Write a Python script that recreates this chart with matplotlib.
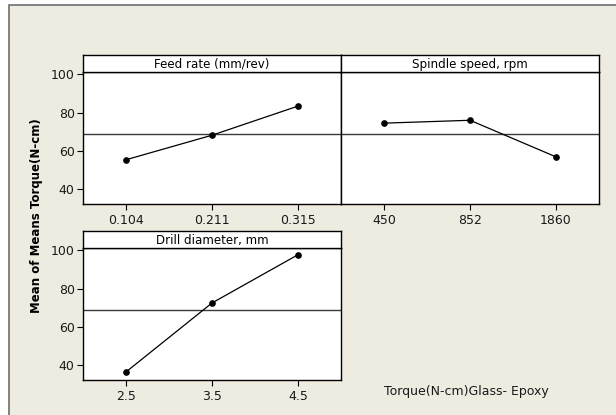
"""Main effects plot for means: torque, glass-epoxy drilling (Minitab style)."""
import matplotlib
matplotlib.use('Agg')
import matplotlib.pyplot as plt
from matplotlib.patches import Rectangle

# --- data ---
feed_levels = ['0.104', '0.211', '0.315']
feed_means = [55.4, 68.2, 83.4]
speed_levels = ['450', '852', '1860']
speed_means = [74.5, 76.0, 56.9]
drill_levels = ['2.5', '3.5', '4.5']
drill_means = [36.5, 72.5, 97.7]
grand_mean = 68.9
panel_titles = ['Feed rate (mm/rev)', 'Spindle speed, rpm', 'Drill diameter, mm']
y_ticks = [40, 60, 80, 100]

W, H = 616, 415
BG = '#EEEBE1'

plt.rcParams['font.family'] = ['DejaVu Sans']


def box(x0, y0, x1, y1):
    # pixel box (top-left origin) -> figure fraction [l, b, w, h]
    return [x0 / W, 1 - y1 / H, (x1 - x0) / W, (y1 - y0) / H]


fig = plt.figure(figsize=(W / 100, H / 100), dpi=100, facecolor='white')

# beige frame of the graph window (behind everything)
fig.patches.append(Rectangle((9 / W, -0.1), 1.1, 1 - 5 / H + 0.1,
                             transform=fig.transFigure, facecolor=BG,
                             edgecolor='#6e6e6e', linewidth=1.2, zorder=-10))

panels = [
    (box(83, 72, 341, 204), box(83, 54.5, 341, 72), feed_levels, feed_means, panel_titles[0], True),
    (box(341, 72, 599, 204), box(341, 54.5, 599, 72), speed_levels, speed_means, panel_titles[1], False),
    (box(83, 248, 341, 380), box(83, 231, 341, 248), drill_levels, drill_means, panel_titles[2], True),
]

for pos, hpos, levels, means, title, show_y in panels:
    ax = fig.add_axes(pos)
    x = list(range(1, len(levels) + 1))
    ax.axhline(grand_mean, color='#3a3a3a', lw=1.0, zorder=1)
    ax.plot(x, means, color='black', lw=0.9, marker='o', ms=3.8, zorder=3)
    ax.set_xlim(0.5, 3.5)
    ax.set_ylim(32.3, 101.2)
    ax.set_xticks(x)
    ax.set_xticklabels(levels, fontsize=9, color='#1a1a1a')
    ax.tick_params(axis='x', length=4, width=0.8, pad=3)
    if show_y:
        ax.set_yticks(y_ticks)
        ax.tick_params(axis='y', length=4, width=0.8, pad=2, labelsize=9,
                       labelcolor='#1a1a1a')
    else:
        ax.set_yticks([])
    for s in ax.spines.values():
        s.set_linewidth(1.0)
    ax.set_facecolor('white')

    # panel header strip
    hx = fig.add_axes(hpos)
    hx.set_xticks([])
    hx.set_yticks([])
    hx.set_facecolor('white')
    for s in hx.spines.values():
        s.set_linewidth(1.0)
    hx.text(0.5, 0.45, title, ha='center', va='center', fontsize=8.6,
            transform=hx.transAxes)

fig.text(36.5 / W, 1 - 216 / H, 'Mean of Means Torque(N-cm)', rotation=90,
         ha='center', va='center', fontsize=8.5, fontweight='bold')
fig.text(466 / W, 1 - 391 / H, 'Torque(N-cm)Glass- Epoxy', ha='center',
         va='center', fontsize=9, color='#1a1a1a')

fig.savefig('out.png', dpi=100, facecolor='white')
